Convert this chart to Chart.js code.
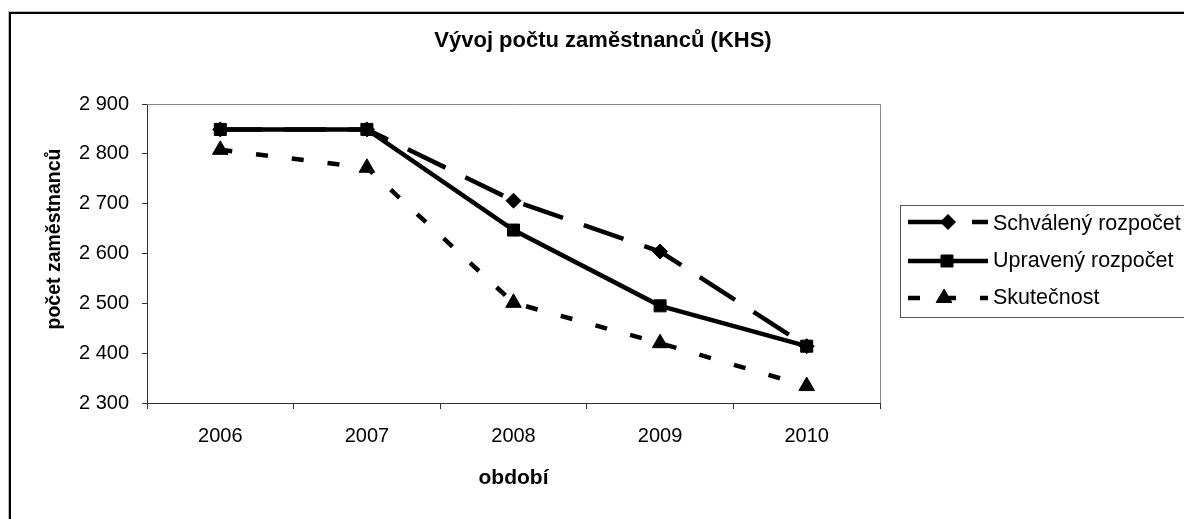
<!DOCTYPE html>
<html><head><meta charset="utf-8">
<script src="https://cdn.jsdelivr.net/npm/chart.js@4.4.0/dist/chart.umd.min.js"></script>
<style>html,body{margin:0;padding:0;background:#fff;} canvas{display:block;}</style>
</head><body>
<canvas id="c" width="1184" height="519"></canvas>
<script>
const categories = ['2006', '2007', '2008', '2009', '2010'];
const schvaleny  = [2849, 2849, 2706, 2604, 2414];
const upraveny   = [2849, 2849, 2647, 2495, 2414];
const skutecnost = [2808, 2772, 2501, 2420, 2334];
const yTickValues = [2300, 2400, 2500, 2600, 2700, 2800, 2900];
const seriesNames = ['Schválený rozpočet', 'Upravený rozpočet', 'Skutečnost'];
const titleText = 'Vývoj počtu zaměstnanců (KHS)';
const yTitleText = 'počet zaměstnanců';
const xTitleText = 'období';

const FONT = '"Liberation Sans", Arial, sans-serif';
function fmt(v) { return String(v).replace(/\B(?=(\d{3})+(?!\d))/g, ' '); }

const styles = [
  { dash: [42, 22], point: 'rectRot', r: 7.5 },
  { dash: [], point: 'rect', r: 8.5 },
  { dash: [12, 24], point: 'triangle', r: 9 }
];
const seriesData = [schvaleny, upraveny, skutecnost];
const orders = [2, 1, 0];
const LW = 4.5;

function marker(ctx, style, r, x, y) {
  ctx.beginPath();
  if (style === 'rectRot') {
    ctx.moveTo(x, y - r); ctx.lineTo(x + r, y); ctx.lineTo(x, y + r); ctx.lineTo(x - r, y);
  } else if (style === 'rect') {
    const s = Math.SQRT1_2 * r;
    ctx.rect(x - s, y - s, 2 * s, 2 * s);
  } else {
    const a = 2 * Math.PI / 3;
    ctx.moveTo(x, y - r);
    ctx.lineTo(x + Math.sin(a) * r, y - Math.cos(a) * r);
    ctx.lineTo(x + Math.sin(2 * a) * r, y - Math.cos(2 * a) * r);
  }
  ctx.closePath();
  ctx.fill(); ctx.stroke();
}

const deco = {
  id: 'deco',
  afterDraw(chart) {
    const ctx = chart.ctx, a = chart.chartArea, W = chart.width, H = chart.height;
    ctx.save();
    // plot area top/right border
    ctx.strokeStyle = '#888'; ctx.lineWidth = 1;
    ctx.beginPath();
    ctx.moveTo(a.left, Math.round(a.top) + 0.5);
    ctx.lineTo(Math.round(a.right) + 0.5, Math.round(a.top) + 0.5);
    ctx.lineTo(Math.round(a.right) + 0.5, a.bottom);
    ctx.stroke();
    // outer chart border
    ctx.fillStyle = '#bbb';
    ctx.fillRect(8, 11, W - 8, 1);
    ctx.fillRect(8, 11, 1, H - 11);
    ctx.fillStyle = '#000';
    ctx.fillRect(9, 12, W - 9, 2);
    ctx.fillRect(9, 12, 2, H - 12);
    // title
    ctx.fillStyle = '#000';
    ctx.font = 'bold 22px ' + FONT;
    ctx.textAlign = 'center'; ctx.textBaseline = 'alphabetic';
    ctx.fillText(titleText, 603, 47);
    // x title
    ctx.font = 'bold 21px ' + FONT;
    ctx.fillText(xTitleText, (a.left + a.right) / 2, 484);
    // y title
    ctx.save();
    ctx.translate(60, 239);
    ctx.rotate(-Math.PI / 2);
    ctx.font = 'bold 19.5px ' + FONT;
    ctx.textAlign = 'center'; ctx.textBaseline = 'alphabetic';
    ctx.fillText(yTitleText, 0, 0);
    ctx.restore();
    // legend
    ctx.strokeStyle = '#555'; ctx.lineWidth = 1;
    ctx.strokeRect(900.5, 205.5, W, 112);
    const rowsLine = [222, 261, 298];
    const rowsText = [230, 267, 304];
    const markX = [948, 947, 944];
    for (let i = 0; i < 3; i++) {
      const st = styles[i];
      ctx.strokeStyle = '#000'; ctx.fillStyle = '#000';
      ctx.lineWidth = LW; ctx.lineCap = 'butt';
      ctx.setLineDash(st.dash);
      ctx.beginPath(); ctx.moveTo(908, rowsLine[i]); ctx.lineTo(988, rowsLine[i]); ctx.stroke();
      ctx.setLineDash([]);
      ctx.lineWidth = 1;
      marker(ctx, st.point, st.r, markX[i], rowsLine[i]);
      ctx.font = '21.5px ' + FONT;
      ctx.textAlign = 'left'; ctx.textBaseline = 'alphabetic';
      ctx.fillText(seriesNames[i], 993, rowsText[i]);
    }
    ctx.restore();
  }
};

const datasets = seriesData.map((d, i) => ({
  label: seriesNames[i],
  data: d,
  order: orders[i],
  borderColor: '#000',
  backgroundColor: '#000',
  borderWidth: LW,
  borderDash: styles[i].dash,
  pointStyle: styles[i].point,
  pointRadius: styles[i].r,
  pointBackgroundColor: '#000',
  pointBorderColor: '#000',
  pointBorderWidth: 1,
  tension: 0,
  fill: false
}));

new Chart(document.getElementById('c'), {
  type: 'line',
  data: { labels: categories, datasets },
  options: {
    responsive: false,
    devicePixelRatio: 1,
    animation: false,
    layout: { padding: { top: 104, right: 304, left: 0, bottom: 0 } },
    plugins: { legend: { display: false }, title: { display: false }, tooltip: { enabled: false } },
    scales: {
      x: {
        type: 'category',
        offset: true,
        grid: { offset: true, drawOnChartArea: false, drawTicks: true, tickLength: 6, color: '#333' },
        border: { color: '#333', width: 1 },
        ticks: { padding: 15, color: '#000', font: { family: FONT, size: 20 }, maxRotation: 0, autoSkip: false },
        afterFit(s) { s.height = 116; }
      },
      y: {
        min: yTickValues[0],
        max: yTickValues[yTickValues.length - 1],
        afterBuildTicks(s) { s.ticks = yTickValues.map(v => ({ value: v })); },
        grid: { drawOnChartArea: false, drawTicks: true, tickLength: 5, color: '#333' },
        border: { color: '#333', width: 1 },
        ticks: { padding: 13, color: '#000', font: { family: FONT, size: 20 }, callback: v => fmt(v) },
        afterFit(s) { s.width = 147; }
      }
    }
  },
  plugins: [deco]
});
</script>
</body></html>
